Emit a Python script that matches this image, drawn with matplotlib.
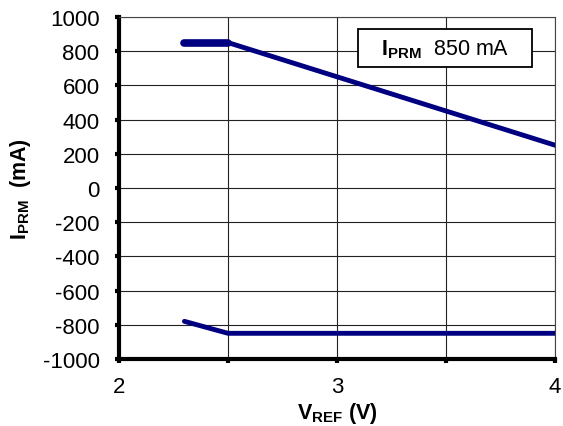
import matplotlib
matplotlib.use("Agg")
import matplotlib.pyplot as plt
from matplotlib.patches import Rectangle

plt.rcParams['font.family'] = ['Liberation Sans', 'DejaVu Sans']
plt.rcParams['mathtext.fontset'] = 'custom'
plt.rcParams['mathtext.rm'] = 'Liberation Sans'
plt.rcParams['mathtext.bf'] = 'Liberation Sans:bold'
plt.rcParams['mathtext.it'] = 'Liberation Sans:italic'

# Data
upper_flat_x = [2.3, 2.5]
upper_flat_y = [850, 850]
upper_x = [2.5, 4.0]
upper_y = [850, 250]
lower_x = [2.3, 2.5, 4.0]
lower_y = [-780, -850, -850]

xticks = [2, 3, 4]
xminor = [2.5, 3.5]
yticks = list(range(-1000, 1001, 200))

line_color = '#000080'

fig = plt.figure(figsize=(5.63, 4.27), dpi=100)
ax = fig.add_axes([0.2114, 0.157, 0.7744, 0.801])

ax.plot(upper_flat_x, upper_flat_y, color=line_color, lw=5.5, solid_capstyle='round', zorder=3)
ax.plot(upper_x, upper_y, color=line_color, lw=3.5, solid_capstyle='round', zorder=3)
ax.plot(lower_x, lower_y, color=line_color, lw=3.5, solid_capstyle='round', zorder=3)

ax.set_xlim(2, 4)
ax.set_ylim(-1000, 1000)
ax.set_xticks(xticks)
ax.set_xticks(xminor, minor=True)
ax.set_yticks(yticks)
ax.set_yticklabels([str(v) for v in yticks], fontsize=16)
ax.set_xticklabels([str(v) for v in xticks], fontsize=16)

ax.grid(True, which='both', color='#222222', lw=0.8)
ax.set_axisbelow(True)

for s in ['left', 'bottom']:
    ax.spines[s].set_linewidth(3)
for s in ['top', 'right']:
    ax.spines[s].set_linewidth(0.8)
    ax.spines[s].set_color('#444444')

ax.tick_params(axis='y', which='both', direction='out', length=3, width=3, pad=11)
ax.tick_params(axis='x', which='both', direction='out', length=3, width=3, pad=9.5)

ax.set_xlabel(r'V$_{\mathbf{REF}}$ (V)', fontsize=15.5, fontweight='bold', labelpad=2)
ax.set_ylabel(r'I$_{\mathbf{PRM}}$  (mA)', fontsize=15.5, fontweight='bold', labelpad=7)

ax.add_patch(Rectangle((0.548, 0.853), 0.399, 0.112, transform=ax.transAxes,
                       facecolor='white', edgecolor='black', lw=1.3, zorder=5))
ax.text(0.7475, 0.906, r'$\mathbf{I}_{\mathbf{PRM}}$' + '  850 mA', transform=ax.transAxes,
        fontsize=15.5, ha='center', va='center', zorder=6)

fig.savefig('out.png', dpi=100)
